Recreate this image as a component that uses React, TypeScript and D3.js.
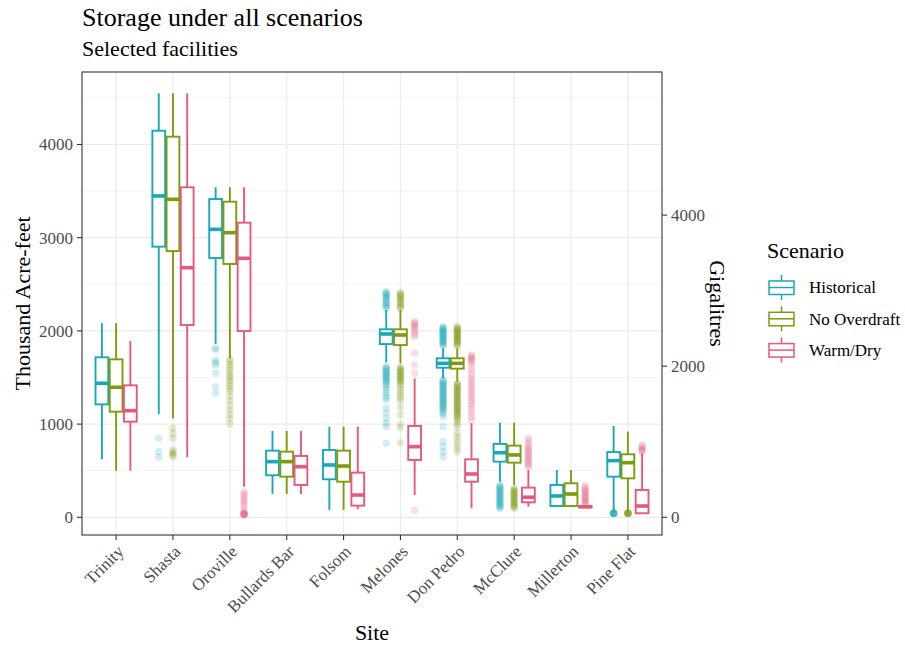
import { useEffect, useRef } from "react";
import * as d3 from "d3";

const sites = ["Trinity", "Shasta", "Oroville", "Bullards Bar", "Folsom", "Melones", "Don Pedro", "McClure", "Millerton", "Pine Flat"];
const scenarios = ["Historical", "No Overdraft", "Warm/Dry"];
const scenarioColors = ["#1AA8B9", "#7B9D0D", "#E6587E"];

// [lower whisker, q1, median, q3, upper whisker] per site, thousand acre-feet
const historicalBoxes = [
    [622, 1212, 1438, 1717, 2082],
    [1108, 2904, 3448, 4148, 4549],
    [1859, 2782, 3090, 3415, 3541],
    [250, 451, 597, 715, 926],
    [78, 408, 561, 722, 972],
    [1660, 1859, 1967, 2017, 2224],
    [1491, 1605, 1652, 1706, 1813],
    [382, 597, 693, 787, 1015],
    [121, 121, 229, 347, 508],
    [50, 436, 608, 700, 980],
];
const noOverdraftBoxes = [
    [500, 1133, 1395, 1695, 2082],
    [1062, 2857, 3412, 4084, 4549],
    [1706, 2718, 3054, 3386, 3541],
    [250, 436, 597, 704, 926],
    [78, 382, 550, 715, 972],
    [1650, 1848, 1956, 2017, 2224],
    [1456, 1595, 1652, 1706, 1813],
    [347, 586, 669, 769, 1015],
    [121, 121, 250, 365, 508],
    [50, 418, 586, 676, 919],
];
const warmDryBoxes = [
    [500, 1026, 1144, 1416, 1892],
    [644, 2063, 2678, 3541, 4549],
    [328, 1999, 2779, 3161, 3541],
    [250, 347, 543, 658, 926],
    [86, 125, 239, 479, 972],
    [239, 615, 758, 980, 1491],
    [97, 382, 465, 622, 1009],
    [114, 161, 215, 318, 508],
    [104, 107, 113, 120, 130],
    [43, 43, 121, 293, 687],
];

// outlying points per site
const historicalOutliers = [
    [],
    [848, 704, 644],
    [1813, 1800, 1688, 1660, 1634, 1545, 1401, 1330],
    [],
    [],
    [2421, 2410, 2398, 2385, 2372, 2360, 2345, 2330, 2315, 2300, 2285, 2270, 2255, 2243,
        1616, 1605, 1592, 1580, 1568, 1555, 1542, 1530, 1518, 1505, 1492, 1480, 1466, 1452, 1438,
        1420, 1395, 1370, 1340, 1310, 1285, 1259, 1173, 1120, 1060, 1010, 972, 794],
    [2045, 2035, 2025, 2015, 2005, 1995, 1985, 1975, 1965, 1955, 1945, 1935, 1925, 1915, 1905, 1895, 1885, 1875, 1862, 1850, 1838,
        1473, 1462, 1450, 1438, 1426, 1414, 1402, 1390, 1378, 1366, 1354, 1342, 1330, 1318, 1306, 1294, 1282, 1270, 1258,
        1246, 1234, 1222, 1210, 1198, 1186, 1174, 1160, 1145, 1130, 1110, 1080, 972, 811, 758, 704, 650],
    [347, 335, 322, 310, 298, 286, 274, 262, 250, 238, 226, 214, 202, 190, 178, 166, 154, 142, 130, 118, 106, 97],
    [],
    [45, 44, 43, 43, 42, 42, 41, 40],
];
const noOverdraftOutliers = [
    [],
    [955, 901, 848, 722, 700, 687, 668, 650],
    [1690, 1670, 1640, 1610, 1580, 1550, 1520, 1500, 1470, 1440, 1410, 1380, 1350, 1300, 1250, 1200, 1150, 1100, 1060, 1000],
    [],
    [],
    [2410, 2398, 2385, 2372, 2360, 2345, 2330, 2315, 2300, 2285, 2270, 2255, 2243,
        1610, 1598, 1585, 1572, 1560, 1548, 1535, 1522, 1510, 1498, 1485, 1472, 1460, 1448,
        1425, 1400, 1370, 1340, 1310, 1280, 1250, 1180, 1100, 1000, 960, 800],
    [2045, 2035, 2025, 2015, 2005, 1995, 1985, 1975, 1965, 1955, 1945, 1935, 1925, 1915, 1905, 1895, 1885, 1875, 1862, 1850, 1838,
        1438, 1426, 1414, 1402, 1390, 1378, 1366, 1354, 1342, 1330, 1318, 1306, 1294, 1282, 1270, 1258, 1246, 1234,
        1222, 1210, 1198, 1186, 1174, 1162, 1150, 1138, 1126, 1114, 1100, 1085, 1070, 1050, 1030, 1000, 972,
        901, 860, 820, 780, 740, 704],
    [311, 300, 288, 276, 264, 252, 240, 228, 216, 204, 192, 180, 168, 156, 144, 132, 120, 108, 97],
    [],
    [45, 44, 43, 43, 42, 42, 41, 40],
];
const warmDryOutliers = [
    [],
    [],
    [275, 250, 225, 200, 175, 150, 120, 90, 60, 45, 38, 32, 30, 28, 26, 25],
    [],
    [],
    [2099, 2085, 2070, 2055, 2040, 2015, 1990, 1960, 1938, 1760, 1634, 1545, 78],
    [1741, 1725, 1710, 1695, 1680, 1660, 1620, 1580, 1540, 1500, 1470, 1440, 1410, 1380, 1350, 1320,
        1290, 1260, 1230, 1200, 1160, 1120, 1080, 1044],
    [848, 820, 790, 760, 740, 720, 700, 680, 660, 640, 620, 600, 580, 560, 543],
    [343, 320, 300, 285, 270, 255, 240, 225, 210, 195, 180, 165, 150, 140],
    [777, 760, 740, 725, 715, 704],
];

const yTicks = [0, 1000, 2000, 3000, 4000];
const yMinorTicks = [500, 1500, 2500, 3500, 4500];
const gigalitreTicks = [0, 2000, 4000];
const gigalitresPerTaf = 1.2335;

const FONT = "'Liberation Serif', 'Times New Roman', serif";

const App = () => {
    const svgRef = useRef<SVGSVGElement>(null);

    useEffect(() => {
        renderPlot(svgRef.current!);
    }, []);

    return (
        <svg ref={svgRef} width={905} height={646}
            style={{ position: "absolute", left: 0, top: 0, background: "white" }} />
    );
};

const renderPlot = (node: SVGSVGElement) => {
    const svg = d3.select(node);
    svg.selectAll("*").remove();
    svg.style("font-family", FONT);

    const panel = { left: 82, right: 662, top: 72, bottom: 535 };

    const xScale = d3.scalePoint<string>()
        .domain(sites)
        .range([panel.left, panel.right])
        .padding(0.6);
    const step = xScale.step();

    // dodge the three scenarios inside 0.75 of a step
    const dodge = d3.scaleBand<string>()
        .domain(scenarios)
        .range([-0.375 * step, 0.375 * step]);
    const boxWidth = dodge.bandwidth() * 0.9;
    const xCenter = (site: string, scen: string) => xScale(site)! + dodge(scen)! + dodge.bandwidth() / 2;

    const yScale = d3.scaleLinear().domain([-190, 4778]).range([panel.bottom, panel.top]);

    // grid
    const grid = svg.append("g");
    grid.selectAll(".minor").data(yMinorTicks).enter().append("line")
        .attr("x1", panel.left).attr("x2", panel.right)
        .attr("y1", d => yScale(d)).attr("y2", d => yScale(d))
        .attr("stroke", "#EBEBEB").attr("stroke-width", 0.6);
    grid.selectAll(".major").data(yTicks).enter().append("line")
        .attr("x1", panel.left).attr("x2", panel.right)
        .attr("y1", d => yScale(d)).attr("y2", d => yScale(d))
        .attr("stroke", "#EBEBEB").attr("stroke-width", 1.2);
    grid.selectAll(".vert").data(sites).enter().append("line")
        .attr("x1", d => xScale(d)!).attr("x2", d => xScale(d)!)
        .attr("y1", panel.top).attr("y2", panel.bottom)
        .attr("stroke", "#EBEBEB").attr("stroke-width", 1.2);

    const boxSets = [historicalBoxes, noOverdraftBoxes, warmDryBoxes];
    const outlierSets = [historicalOutliers, noOverdraftOutliers, warmDryOutliers];

    boxSets.forEach((boxes, i) => {
        const scen = scenarios[i];
        const color = scenarioColors[i];
        const g = svg.append("g");

        // outliers
        sites.forEach((site, j) => {
            g.selectAll(null)
                .data(outlierSets[i][j])
                .enter()
                .append("circle")
                .attr("cx", xCenter(site, scen))
                .attr("cy", d => yScale(d))
                .attr("r", 3.7)
                .attr("fill", color)
                .attr("fill-opacity", 0.2);
        });

        const rows = boxes.map((b, j) => ({ site: sites[j], lo: b[0], q1: b[1], med: b[2], q3: b[3], hi: b[4] }));

        g.selectAll(".whiskerTop").data(rows).enter().append("line")
            .attr("x1", d => xCenter(d.site, scen)).attr("x2", d => xCenter(d.site, scen))
            .attr("y1", d => yScale(d.hi)).attr("y2", d => yScale(d.q3))
            .attr("stroke", color).attr("stroke-width", 1.9);
        g.selectAll(".whiskerBottom").data(rows).enter().append("line")
            .attr("x1", d => xCenter(d.site, scen)).attr("x2", d => xCenter(d.site, scen))
            .attr("y1", d => yScale(d.lo)).attr("y2", d => yScale(d.q1))
            .attr("stroke", color).attr("stroke-width", 1.9);
        g.selectAll("rect").data(rows).enter().append("rect")
            .attr("x", d => xCenter(d.site, scen) - boxWidth / 2)
            .attr("width", boxWidth)
            .attr("y", d => yScale(d.q3))
            .attr("height", d => yScale(d.q1) - yScale(d.q3))
            .attr("fill", "white")
            .attr("stroke", color).attr("stroke-width", 1.9);
        g.selectAll(".median").data(rows).enter().append("line")
            .attr("x1", d => xCenter(d.site, scen) - boxWidth / 2).attr("x2", d => xCenter(d.site, scen) + boxWidth / 2)
            .attr("y1", d => yScale(d.med)).attr("y2", d => yScale(d.med))
            .attr("stroke", color).attr("stroke-width", 3.6);
    });

    // panel border
    svg.append("rect")
        .attr("x", panel.left).attr("y", panel.top)
        .attr("width", panel.right - panel.left).attr("height", panel.bottom - panel.top)
        .attr("fill", "none").attr("stroke", "#333333").attr("stroke-width", 1.1);

    // left axis
    const left = svg.append("g");
    left.selectAll("line").data(yTicks).enter().append("line")
        .attr("x1", panel.left - 5).attr("x2", panel.left)
        .attr("y1", d => yScale(d)).attr("y2", d => yScale(d))
        .attr("stroke", "#333333").attr("stroke-width", 1.1);
    left.selectAll("text").data(yTicks).enter().append("text")
        .attr("x", panel.left - 9).attr("y", d => yScale(d)).attr("dy", "0.35em")
        .attr("text-anchor", "end").attr("fill", "#4D4D4D").attr("font-size", 17)
        .text(d => d);

    // right axis (gigalitres)
    const gigaScale = d3.scaleLinear()
        .domain([yScale.domain()[0] * gigalitresPerTaf, yScale.domain()[1] * gigalitresPerTaf])
        .range(yScale.range());
    const right = svg.append("g");
    right.selectAll("line").data(gigalitreTicks).enter().append("line")
        .attr("x1", panel.right).attr("x2", panel.right + 5)
        .attr("y1", d => gigaScale(d)).attr("y2", d => gigaScale(d))
        .attr("stroke", "#333333").attr("stroke-width", 1.1);
    right.selectAll("text").data(gigalitreTicks).enter().append("text")
        .attr("x", panel.right + 9).attr("y", d => gigaScale(d)).attr("dy", "0.35em")
        .attr("text-anchor", "start").attr("fill", "#4D4D4D").attr("font-size", 17)
        .text(d => d);

    // bottom axis
    const bottom = svg.append("g");
    bottom.selectAll("line").data(sites).enter().append("line")
        .attr("x1", d => xScale(d)!).attr("x2", d => xScale(d)!)
        .attr("y1", panel.bottom).attr("y2", panel.bottom + 5)
        .attr("stroke", "#333333").attr("stroke-width", 1.1);
    bottom.selectAll("text").data(sites).enter().append("text")
        .attr("transform", d => "translate(" + xScale(d)! + "," + (panel.bottom + 9) + ") rotate(-45)")
        .attr("dy", "0.71em")
        .attr("text-anchor", "end").attr("fill", "#4D4D4D").attr("font-size", 17)
        .text(d => d);

    // titles
    svg.append("text").attr("x", panel.left).attr("y", 26)
        .attr("font-size", 26).attr("fill", "black").text("Storage under all scenarios");
    svg.append("text").attr("x", panel.left).attr("y", 56)
        .attr("font-size", 22).attr("fill", "black").text("Selected facilities");
    svg.append("text").attr("x", (panel.left + panel.right) / 2).attr("y", 640)
        .attr("text-anchor", "middle").attr("font-size", 22).attr("fill", "black").text("Site");
    svg.append("text")
        .attr("transform", "translate(30," + (panel.top + panel.bottom) / 2 + ") rotate(-90)")
        .attr("text-anchor", "middle").attr("font-size", 22).attr("fill", "black").text("Thousand Acre-feet");
    svg.append("text")
        .attr("transform", "translate(710," + (panel.top + panel.bottom) / 2 + ") rotate(90)")
        .attr("text-anchor", "middle").attr("font-size", 22).attr("fill", "black").text("Gigalitres");

    // legend
    const legend = svg.append("g");
    legend.append("text").attr("x", 767).attr("y", 258)
        .attr("font-size", 22).attr("fill", "black").text("Scenario");
    scenarios.forEach((s, i) => {
        const cy = 287.5 + i * 31.3;
        const cx = 781.5;
        const key = legend.append("g");
        key.append("line").attr("x1", cx).attr("x2", cx).attr("y1", cy - 12.5).attr("y2", cy + 12.5)
            .attr("stroke", scenarioColors[i]).attr("stroke-width", 1.5);
        key.append("rect").attr("x", cx - 12.5).attr("y", cy - 6.5).attr("width", 25).attr("height", 13.5)
            .attr("fill", "white").attr("stroke", scenarioColors[i]).attr("stroke-width", 1.5);
        key.append("line").attr("x1", cx - 12.5).attr("x2", cx + 12.5).attr("y1", cy).attr("y2", cy)
            .attr("stroke", scenarioColors[i]).attr("stroke-width", 1.5);
        legend.append("text").attr("x", 809).attr("y", cy).attr("dy", "0.35em")
            .attr("font-size", 17).attr("fill", "black").text(s);
    });
};

export default App;
